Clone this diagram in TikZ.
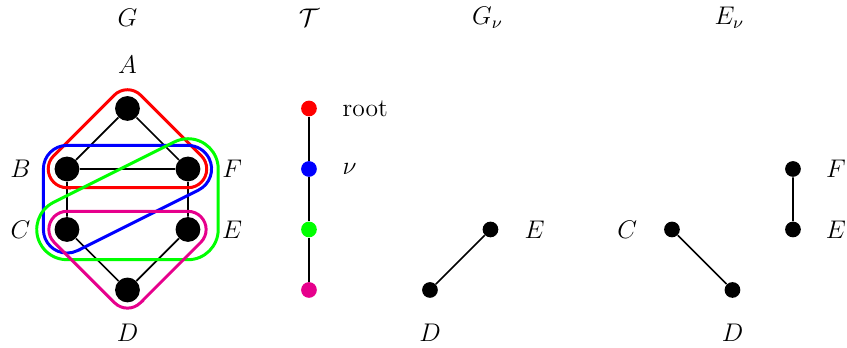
\documentclass[tikz,border=0pt]{standalone}
\usetikzlibrary{calc}
\definecolor{hmag}{RGB}{230,0,140}
\begin{document}
\begin{tikzpicture}[
 big/.style={circle,fill=black,inner sep=0pt,minimum size=0.41cm},
 small/.style={circle,fill=#1,inner sep=0pt,minimum size=0.26cm},
 edge/.style={line width=0.8pt},
 hull/.style={line width=1.4pt,draw=#1},
 lbl/.style={inner sep=0pt,font=\large}
]
\useasboundingbox (-1.107,-0.959) rectangle (12.893,4.793);
% titles
\node[lbl] (tG) at (1,4.5) {$G$};
\node[lbl] (tT) at (4,4.5) {$\mathcal{T}$};
\node[lbl] (tGn) at (6.95,4.5) {$G_\nu$};
\node[lbl] (tEn) at (10.95,4.5) {$E_\nu$};
% graph G
\node[big] (A) at (1,3) {};
\node[big] (B) at (0,2) {};
\node[big] (F) at (2,2) {};
\node[big] (C) at (0,1) {};
\node[big] (E) at (2,1) {};
\node[big] (D) at (1,0) {};
\node[lbl] (lA) at (1,3.73) {$A$};
\node[lbl] (lB) at (-0.77,2) {$B$};
\node[lbl] (lF) at (2.73,2) {$F$};
\node[lbl] (lC) at (-0.77,1) {$C$};
\node[lbl] (lE) at (2.73,1) {$E$};
\node[lbl] (lD) at (1,-0.71) {$D$};
\draw[edge] (A) -- (B) (A) -- (F) (B) -- (F) (B) -- (C) (F) -- (E) (C) -- (D) (E) -- (D);
% hulls
\draw[hull=red] ([shift={(-90:0.31)}]B.center) -- ([shift={(-90:0.31)}]F.center) arc[start angle=-90,end angle=45,radius=0.31] -- ([shift={(45:0.31)}]A.center) arc[start angle=45,end angle=135,radius=0.31] -- ([shift={(135:0.31)}]B.center) arc[start angle=135,end angle=270,radius=0.31] -- cycle;
\draw[hull=blue] ([shift={(-63.435:0.39)}]C.center) -- ([shift={(-63.435:0.39)}]F.center) arc[start angle=-63.435,end angle=90,radius=0.39] -- ([shift={(90:0.39)}]B.center) arc[start angle=90,end angle=180,radius=0.39] -- ([shift={(180:0.39)}]C.center) arc[start angle=180,end angle=296.565,radius=0.39] -- cycle;
\draw[hull=green] ([shift={(-90:0.5)}]C.center) -- ([shift={(-90:0.5)}]E.center) arc[start angle=-90,end angle=0,radius=0.5] -- ([shift={(0:0.5)}]F.center) arc[start angle=0,end angle=116.565,radius=0.5] -- ([shift={(116.565:0.5)}]C.center) arc[start angle=116.565,end angle=270,radius=0.5] -- cycle;
\draw[hull=hmag] ([shift={(-45:0.3)}]D.center) -- ([shift={(-45:0.3)}]E.center) arc[start angle=-45,end angle=90,radius=0.3] -- ([shift={(90:0.3)}]C.center) arc[start angle=90,end angle=225,radius=0.3] -- ([shift={(225:0.3)}]D.center) arc[start angle=225,end angle=315,radius=0.3] -- cycle;
% tree T
\node[small=red] (t1) at (4,3) {};
\node[small=blue] (t2) at (4,2) {};
\node[small=green] (t3) at (4,1) {};
\node[small=hmag] (t4) at (4,0) {};
\node[lbl,anchor=west] (lroot) at (4.55,3) {root};
\node[lbl,anchor=west] (lnu) at (4.55,2) {$\nu$};
\draw[edge] (t1) -- (t2) -- (t3) -- (t4);
% G_nu
\node[small=black] (gD) at (6,0) {};
\node[small=black] (gE) at (7,1) {};
\node[lbl] (lgD) at (6,-0.71) {$D$};
\node[lbl] (lgE) at (7.73,1) {$E$};
\draw[edge] (gD) -- (gE);
% E_nu
\node[small=black] (eC) at (10,1) {};
\node[small=black] (eD) at (11,0) {};
\node[small=black] (eF) at (12,2) {};
\node[small=black] (eE) at (12,1) {};
\node[lbl] (leC) at (9.26,1) {$C$};
\node[lbl] (leD) at (11,-0.71) {$D$};
\node[lbl] (leF) at (12.71,2) {$F$};
\node[lbl] (leE) at (12.71,1) {$E$};
\draw[edge] (eC) -- (eD) (eF) -- (eE);
\end{tikzpicture}
\end{document}
